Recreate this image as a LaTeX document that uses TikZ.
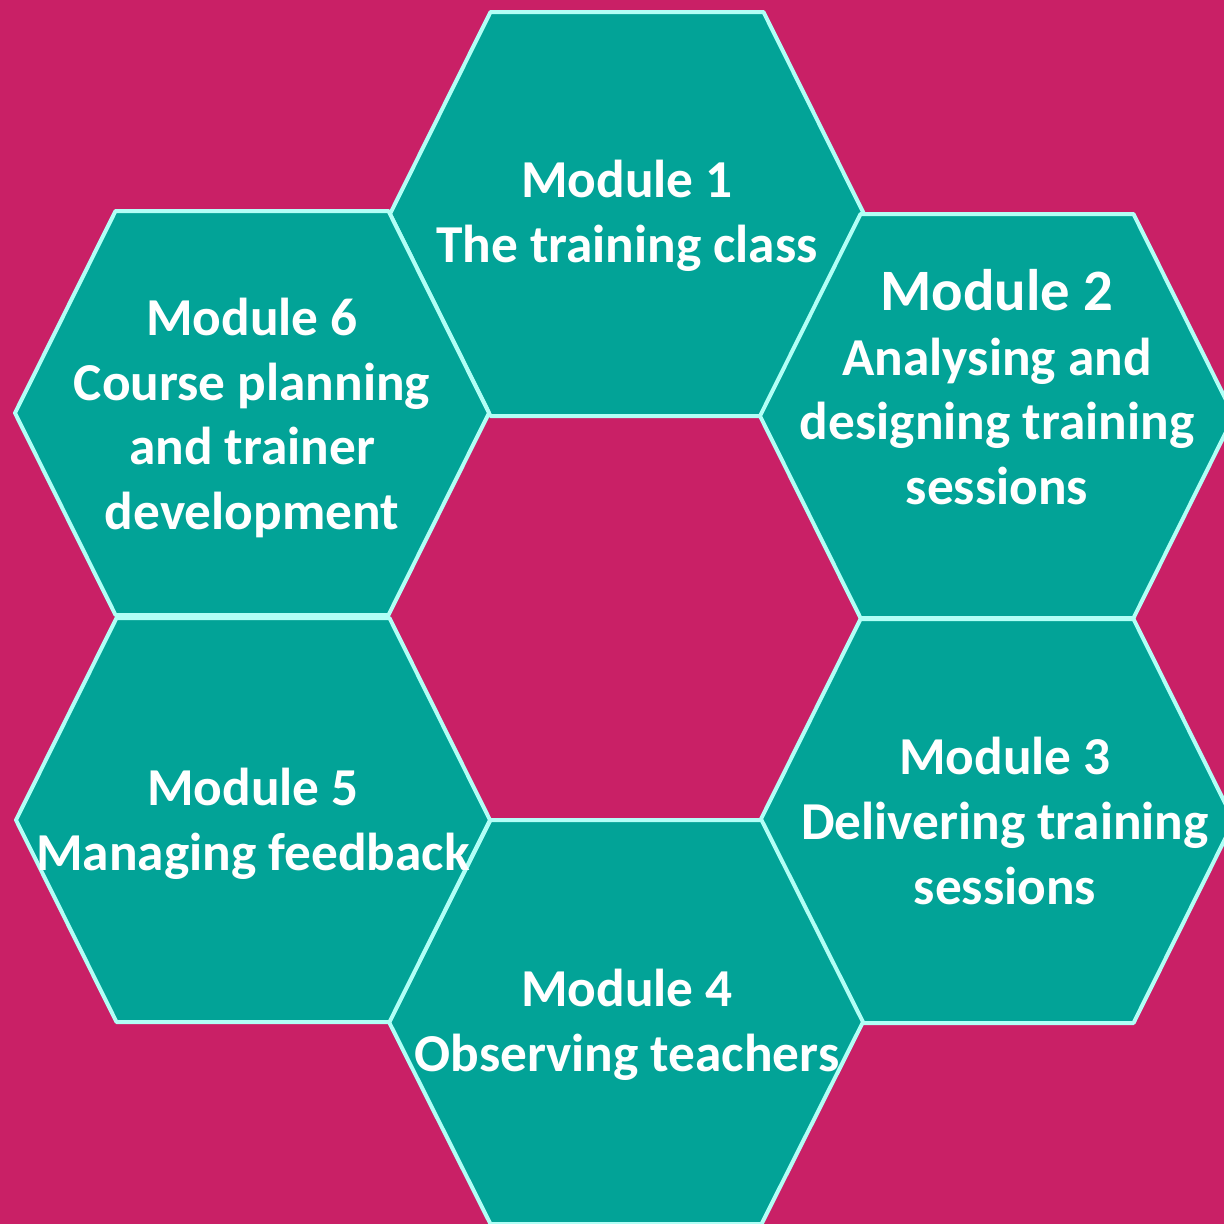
\documentclass[tikz,border=0pt]{standalone}
\usepackage{fontspec}
\setmainfont{Carlito}

\definecolor{bgmagenta}{RGB}{201,32,102}
\definecolor{hexteal}{RGB}{2,163,151}
\definecolor{hexedge}{RGB}{178,255,246}

\tikzset{every picture/.style={line width=0.75pt}}
\tikzset{
  hexcell/.style={draw=hexedge,fill=hexteal,line width=3pt,line join=round},
  modtext/.style={text=white,align=center,font=\bfseries\fontsize{40}{48.5}\selectfont,inner sep=0pt}
}

\begin{document}
\begin{tikzpicture}[x=0.75pt,y=0.75pt,yscale=-1,xscale=1]
%set diagram area 1224 x 1224
\useasboundingbox (0,0) rectangle (1224,1224);
\fill [bgmagenta] (0,0) rectangle (1224,1224);
\clip (0,0) rectangle (1224,1224);

%Shape: Hexagon [module 1]
\draw [hexcell] (390,214) -- (490.5,12) -- (763.5,12) -- (864,214) -- (763.5,416) -- (490.5,416) -- cycle ;
%Shape: Hexagon [module 2]
\draw [hexcell] (760,416) -- (860.5,214) -- (1133.5,214) -- (1234,416) -- (1133.5,618) -- (860.5,618) -- cycle ;
%Shape: Hexagon [module 3]
\draw [hexcell] (760,821) -- (860.5,619) -- (1133.5,619) -- (1234,821) -- (1133.5,1023) -- (860.5,1023) -- cycle ;
%Shape: Hexagon [module 4]
\draw [hexcell] (389,1022) -- (490.5,820) -- (761.5,820) -- (863,1022) -- (761.5,1224) -- (490.5,1224) -- cycle ;
%Shape: Hexagon [module 5]
\draw [hexcell] (16,820) -- (116.5,618) -- (389.5,618) -- (490,820) -- (389.5,1022) -- (116.5,1022) -- cycle ;
%Shape: Hexagon [module 6]
\draw [hexcell] (15,413) -- (115.5,211) -- (388.5,211) -- (489,413) -- (388.5,615) -- (115.5,615) -- cycle ;

% Text Node
\draw (627,216) node (mod1) [modtext] {Module 1\\The training class};
% Text Node
\draw (997,387) node (mod2) [modtext] {{\fontsize{44}{48.5}\selectfont Module 2}\\Analysing and\\designing training\\sessions};
% Text Node
\draw (1005,821) node (mod3) [modtext] {Module 3\\Delivering training\\sessions};
% Text Node
\draw (627,1025) node (mod4) [modtext] {Module 4\\Observing teachers};
% Text Node
\draw (253,824) node (mod5) [modtext] {Module 5\\Managing feedback};
% Text Node
\draw (252,418) node (mod6) [modtext] {Module 6\\Course planning\\and trainer\\development};

\end{tikzpicture}
\end{document}
